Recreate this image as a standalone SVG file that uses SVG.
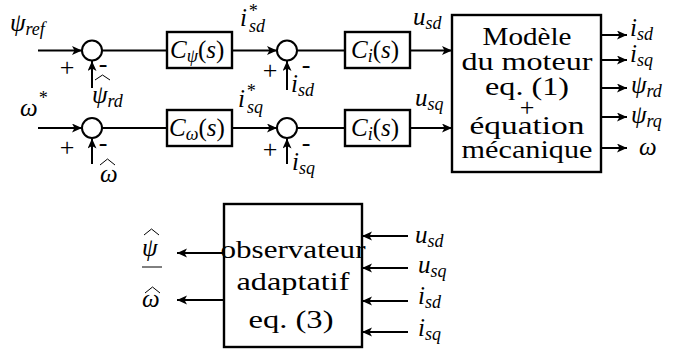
<svg xmlns="http://www.w3.org/2000/svg" width="678" height="349" viewBox="0 0 678 349">
<style>
.ln{stroke:#000;stroke-width:2;fill:none}
.ar{stroke:#000;stroke-width:2;fill:none;marker-end:url(#ah)}
.bx{stroke:#000;stroke-width:2.4;fill:#fff}
.sum{stroke:#000;stroke-width:2;fill:#fff}
.hat{stroke:#000;stroke-width:1;fill:none}
text{font-family:'Liberation Serif','Times New Roman',serif;fill:#000}
.tc{font-size:26px;text-anchor:middle}
.m{font-style:italic;font-size:25px}
.s{font-size:18px}
.sg{font-size:26px;text-anchor:middle}
</style>
<defs>
<marker id="ah" markerUnits="userSpaceOnUse" markerWidth="11" markerHeight="10" refX="10" refY="4.5" orient="auto">
<path d="M0,0 L10,4.5 L0,9 L2.5,4.5 z" fill="#000"/>
</marker>
</defs>

<g id="connectors">
<line class="ar" x1="38" y1="50.5" x2="82" y2="50.5"/>
<line class="ar" x1="92" y1="88" x2="92" y2="61"/>
<line class="ln" x1="102" y1="50.5" x2="167" y2="50.5"/>
<line class="ar" x1="232" y1="50.5" x2="277" y2="50.5"/>
<line class="ar" x1="287" y1="90" x2="287" y2="61"/>
<line class="ln" x1="297" y1="50.5" x2="345" y2="50.5"/>
<line class="ar" x1="410" y1="50.5" x2="452" y2="50.5"/>

<line class="ar" x1="38" y1="128" x2="82" y2="128"/>
<line class="ar" x1="92" y1="164" x2="92" y2="138.5"/>
<line class="ln" x1="102" y1="128" x2="167" y2="128"/>
<line class="ar" x1="232" y1="128" x2="277" y2="128"/>
<line class="ar" x1="287" y1="164" x2="287" y2="138.5"/>
<line class="ln" x1="297" y1="128" x2="345" y2="128"/>
<line class="ar" x1="410" y1="128" x2="452" y2="128"/>

<line class="ar" x1="601" y1="35" x2="627" y2="35"/>
<line class="ar" x1="601" y1="60" x2="627" y2="60"/>
<line class="ar" x1="601" y1="88" x2="627" y2="88"/>
<line class="ar" x1="601" y1="117" x2="627" y2="117"/>
<line class="ar" x1="601" y1="148" x2="627" y2="148"/>

<line class="ar" x1="408" y1="236" x2="362" y2="236"/>
<line class="ar" x1="408" y1="268" x2="362" y2="268"/>
<line class="ar" x1="408" y1="301" x2="362" y2="301"/>
<line class="ar" x1="408" y1="332" x2="362" y2="332"/>

<line class="ar" x1="224" y1="253" x2="177" y2="253"/>
<line class="ar" x1="224" y1="300" x2="177" y2="300"/>
</g>

<g id="sum1">
<circle class="sum" cx="92" cy="50.5" r="10"/>
<text class="sg" x="67" y="76">+</text>
<text class="sg" x="103" y="72" font-size="18">-</text>
</g>
<g id="sum2">
<circle class="sum" cx="287" cy="50.5" r="10"/>
<text class="sg" x="270" y="79">+</text>
<text class="sg" x="306" y="73" font-size="18">-</text>
</g>
<g id="sum3">
<circle class="sum" cx="92" cy="128" r="10"/>
<text class="sg" x="67" y="156">+</text>
<text class="sg" x="103" y="151" font-size="18">-</text>
</g>
<g id="sum4">
<circle class="sum" cx="287" cy="128" r="10"/>
<text class="sg" x="270" y="158">+</text>
<text class="sg" x="306" y="151" font-size="18">-</text>
</g>

<g id="Cpsi">
<rect class="bx" x="167" y="32" width="65" height="36"/>
<text class="m" x="170" y="58">C<tspan class="s" dy="4">ψ</tspan><tspan dy="-4" font-style="normal">(</tspan>s<tspan font-style="normal">)</tspan></text>
</g>
<g id="Ci1">
<rect class="bx" x="345" y="32" width="65" height="36"/>
<text class="m" x="351" y="58">C<tspan class="s" dy="4">i</tspan><tspan dy="-4" font-style="normal">(</tspan>s<tspan font-style="normal">)</tspan></text>
</g>
<g id="Comega">
<rect class="bx" x="167" y="110" width="65" height="36"/>
<text class="m" x="169" y="136">C<tspan class="s" dy="4">ω</tspan><tspan dy="-4" font-style="normal">(</tspan>s<tspan font-style="normal">)</tspan></text>
</g>
<g id="Ci2">
<rect class="bx" x="345" y="110" width="65" height="36"/>
<text class="m" x="351" y="136">C<tspan class="s" dy="4">i</tspan><tspan dy="-4" font-style="normal">(</tspan>s<tspan font-style="normal">)</tspan></text>
</g>

<g id="modele">
<rect class="bx" x="452" y="15" width="149" height="157"/>
<text class="tc" x="527" y="45" textLength="89" lengthAdjust="spacingAndGlyphs">Modèle</text>
<text class="tc" x="527" y="70" textLength="131" lengthAdjust="spacingAndGlyphs">du moteur</text>
<text class="tc" x="527" y="95" textLength="84" lengthAdjust="spacingAndGlyphs">eq. (1)</text>
<text class="tc" x="527" y="116" font-size="20">+</text>
<text class="tc" x="527" y="134" textLength="115" lengthAdjust="spacingAndGlyphs">équation</text>
<text class="tc" x="527" y="158" textLength="131" lengthAdjust="spacingAndGlyphs">mécanique</text>
</g>

<g id="observateur">
<rect class="bx" x="224" y="204" width="138" height="143"/>
<text class="tc" x="293" y="258" textLength="145" lengthAdjust="spacingAndGlyphs">observateur</text>
<text class="tc" x="293" y="290" textLength="113" lengthAdjust="spacingAndGlyphs">adaptatif</text>
<text class="tc" x="291" y="328" textLength="85" lengthAdjust="spacingAndGlyphs">eq. (3)</text>
</g>

<g id="labels">
<text class="m" x="10" y="31">ψ<tspan class="s" dy="4">ref</tspan></text>
<text class="m" x="20" y="116">ω</text>
<text class="m s" x="38" y="104">*</text>
<polyline class="hat" points="95,80 102.5,75 110,80"/>
<text class="m" x="92" y="103">ψ<tspan class="s" dy="4">rd</tspan></text>
<polyline class="hat" points="100,165 107.5,159 115,165"/>
<text class="m" x="100" y="182">ω</text>

<text class="m" x="240" y="26">i</text>
<text class="m s" x="248" y="17">*</text>
<text class="m s" x="249" y="32">sd</text>
<text class="m" x="238" y="107">i</text>
<text class="m s" x="246" y="97">*</text>
<text class="m s" x="247" y="113">sq</text>

<text class="m" x="291" y="92">i<tspan class="s" dy="4">sd</tspan></text>
<text class="m" x="292" y="170">i<tspan class="s" dy="4">sq</tspan></text>

<text class="m" x="413" y="25">u<tspan class="s" dy="4">sd</tspan></text>
<text class="m" x="415" y="106">u<tspan class="s" dy="4">sq</tspan></text>

<text class="m" x="630" y="36">i<tspan class="s" dy="4">sd</tspan></text>
<text class="m" x="630" y="62">i<tspan class="s" dy="4">sq</tspan></text>
<text class="m" x="631" y="93">ψ<tspan class="s" dy="4">rd</tspan></text>
<text class="m" x="631" y="123">ψ<tspan class="s" dy="4">rq</tspan></text>
<text class="m" x="639" y="155">ω</text>

<text class="m" x="415" y="243">u<tspan class="s" dy="4">sd</tspan></text>
<text class="m" x="418" y="273">u<tspan class="s" dy="4">sq</tspan></text>
<text class="m" x="418" y="304">i<tspan class="s" dy="4">sd</tspan></text>
<text class="m" x="418" y="336">i<tspan class="s" dy="4">sq</tspan></text>

<polyline class="hat" points="144,235 151.5,229 159,235"/>
<text class="m" x="142" y="256">ψ</text>
<line class="hat" x1="142" y1="267" x2="162" y2="267"/>
<polyline class="hat" points="145,293 152.5,287 160,293"/>
<text class="m" x="142" y="307">ω</text>
</g>
</svg>
